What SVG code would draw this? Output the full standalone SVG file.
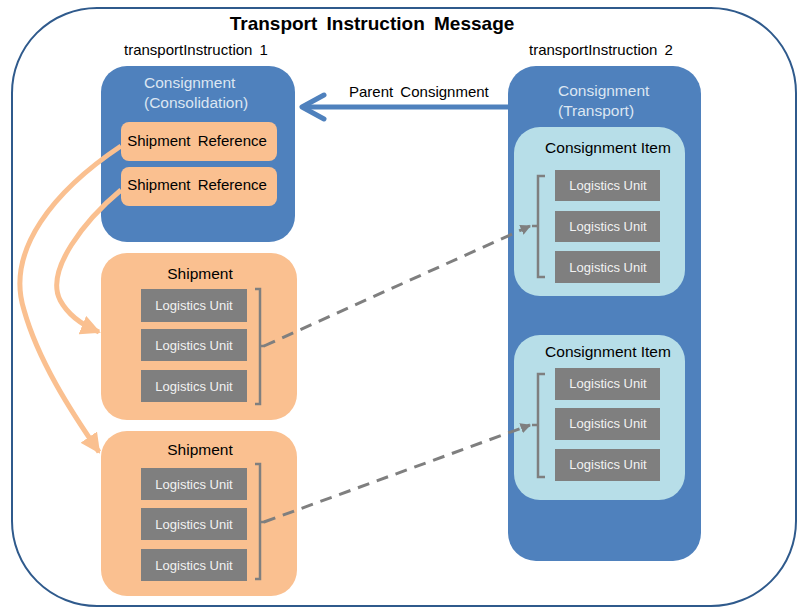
<svg xmlns="http://www.w3.org/2000/svg" width="798" height="609" viewBox="0 0 798 609">
<defs>
<style>
text{font-family:"Liberation Sans",Arial,sans-serif;}
.title{font-size:19px;font-weight:bold;fill:#000;text-anchor:middle;word-spacing:4px;}
.ti{font-size:15px;fill:#000;word-spacing:3px;}
.cons{fill:#4F81BD;}
.constxt{font-size:15.5px;fill:#DCE6F2;}
.ref{fill:#FAC090;}
.reftxt{font-size:15px;fill:#000;text-anchor:middle;word-spacing:3px;}
.ship{fill:#FAC090;}
.item{fill:#B7DEE8;}
.hd{font-size:15.5px;fill:#000;text-anchor:middle;}
.lu{fill:#7F7F7F;}
.lutxt{font-size:13px;fill:#F2F2F2;text-anchor:middle;}
.br{fill:none;stroke:#7F7F7F;stroke-width:2.5;}
.dash{fill:none;stroke:#7F7F7F;stroke-width:3;stroke-dasharray:12 8;}
.orange{fill:none;stroke:#FAC090;stroke-width:5;}
</style>
<marker id="oa" viewBox="0 0 10 10" refX="9" refY="5" markerWidth="4" markerHeight="4" orient="auto" markerUnits="strokeWidth">
<path d="M0,0 L10,5 L0,10 Z" fill="#FAC090"/>
</marker>
<marker id="ga" viewBox="0 0 10 10" refX="9" refY="5" markerWidth="3.5" markerHeight="3.5" orient="auto" markerUnits="strokeWidth">
<path d="M0,0 L10,5 L0,10 Z" fill="#7F7F7F"/>
</marker>
</defs>
<rect id="frame" x="12" y="8" width="784" height="598" rx="85" ry="85" fill="#fff" stroke="#2F5A8C" stroke-width="2"/>
<text class="title" x="372" y="30">Transport Instruction Message</text>
<text class="ti" x="124" y="55">transportInstruction 1</text>
<text class="ti" x="529" y="55">transportInstruction 2</text>

<g id="consolidation">
<rect class="cons" x="101" y="66" width="194" height="176" rx="26"/>
<text class="constxt" x="144" y="88">Consignment</text>
<text class="constxt" x="144" y="108">(Consolidation)</text>
</g>
<g id="ref1">
<rect class="ref" x="121" y="122" width="156" height="39" rx="8"/>
<text class="reftxt" x="197" y="146">Shipment Reference</text>
</g>
<g id="ref2">
<rect class="ref" x="121" y="167" width="156" height="39" rx="8"/>
<text class="reftxt" x="197" y="190">Shipment Reference</text>
</g>

<g id="transport">
<rect class="cons" x="508" y="66" width="193" height="495" rx="28"/>
<text class="constxt" x="558" y="96">Consignment</text>
<text class="constxt" x="558" y="116">(Transport)</text>
</g>

<g id="item1">
<rect class="item" x="514" y="127" width="171" height="169" rx="26"/>
<text class="hd" x="608" y="153">Consignment Item</text>
<rect class="lu" x="555" y="170" width="105" height="31"/>
<text class="lutxt" x="608" y="190">Logistics Unit</text>
<rect class="lu" x="555" y="211" width="105" height="31"/>
<text class="lutxt" x="608" y="231">Logistics Unit</text>
<rect class="lu" x="555" y="251" width="105" height="32"/>
<text class="lutxt" x="608" y="272">Logistics Unit</text>
<path class="br" d="M545,176 H538 V277 H545 M538,226 H532"/>
</g>

<g id="item2">
<rect class="item" x="514" y="335" width="171" height="165" rx="26"/>
<text class="hd" x="608" y="357">Consignment Item</text>
<rect class="lu" x="555" y="368" width="105" height="32"/>
<text class="lutxt" x="608" y="388">Logistics Unit</text>
<rect class="lu" x="555" y="408" width="105" height="32"/>
<text class="lutxt" x="608" y="428">Logistics Unit</text>
<rect class="lu" x="555" y="449" width="105" height="32"/>
<text class="lutxt" x="608" y="469">Logistics Unit</text>
<path class="br" d="M545,374 H538 V477 H545 M538,425 H532"/>
</g>

<g id="shipment1">
<rect class="ship" x="101" y="253" width="196" height="167" rx="26"/>
<text class="hd" x="200" y="279">Shipment</text>
<rect class="lu" x="141" y="289" width="106" height="33"/>
<text class="lutxt" x="194" y="310">Logistics Unit</text>
<rect class="lu" x="141" y="329" width="106" height="32"/>
<text class="lutxt" x="194" y="350">Logistics Unit</text>
<rect class="lu" x="141" y="370" width="106" height="32"/>
<text class="lutxt" x="194" y="391">Logistics Unit</text>
<path class="br" d="M255,289 H260 V404 H255 M260,346 H265"/>
</g>

<g id="shipment2">
<rect class="ship" x="101" y="431" width="196" height="165" rx="26"/>
<text class="hd" x="200" y="455">Shipment</text>
<rect class="lu" x="141" y="468" width="106" height="32"/>
<text class="lutxt" x="194" y="489">Logistics Unit</text>
<rect class="lu" x="141" y="508" width="106" height="32"/>
<text class="lutxt" x="194" y="529">Logistics Unit</text>
<rect class="lu" x="141" y="549" width="106" height="32"/>
<text class="lutxt" x="194" y="570">Logistics Unit</text>
<path class="br" d="M255,464 H260 V579 H255 M260,522 H265"/>
</g>

<g id="connectors">
<path d="M508,107 H302" fill="none" stroke="#4F81BD" stroke-width="5"/>
<path d="M324,95 L302,107 L324,119" fill="none" stroke="#4F81BD" stroke-width="5" stroke-linecap="round" stroke-linejoin="round"/>
<text class="ti" x="349" y="97">Parent Consignment</text>
<path class="dash" d="M264,346 L530,226" marker-end="url(#ga)"/>
<path class="dash" d="M264,522 L530,425" marker-end="url(#ga)"/>
<path class="orange" d="M121,146 C55,190 5,250 24,310 C38,360 70,410 99,452" marker-end="url(#oa)"/>
<path class="orange" d="M121,190 C85,220 45,270 60,300 C68,315 82,325 99,332" marker-end="url(#oa)"/>
</g>
</svg>
